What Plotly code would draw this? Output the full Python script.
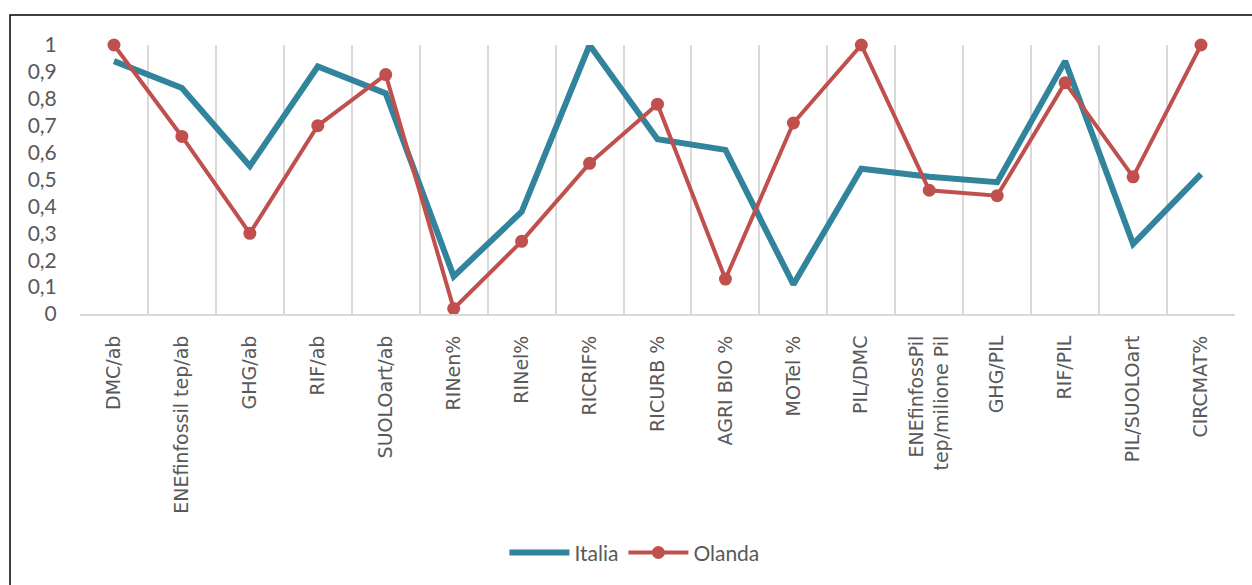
import plotly.graph_objects as go

categories = ["DMC/ab", "ENEfinfossil tep/ab", "GHG/ab", "RIF/ab", "SUOLOart/ab", "RINen%", "RINel%",
              "RICRIF%", "RICURB %", "AGRI BIO %", "MOTel %", "PIL/DMC",
              "ENEfinfossPil<br>tep/milione Pil", "GHG/PIL", "RIF/PIL", "PIL/SUOLOart", "CIRCMAT%"]
italia = [0.94, 0.84, 0.55, 0.92, 0.82, 0.14, 0.38, 1.0, 0.65, 0.61, 0.11, 0.54, 0.51, 0.49, 0.94, 0.26, 0.52]
olanda = [1.0, 0.66, 0.30, 0.70, 0.89, 0.02, 0.27, 0.56, 0.78, 0.13, 0.71, 1.0, 0.46, 0.44, 0.86, 0.51, 1.0]
y_ticks = [i / 10 for i in range(11)]

xpos = list(range(len(categories)))
bounds = [i - 0.5 for i in range(len(categories) + 1)]

fig = go.Figure()
fig.add_trace(go.Scatter(x=xpos, y=italia, name="Italia", mode="lines",
                         line=dict(color="#31849B", width=6), cliponaxis=False))
fig.add_trace(go.Scatter(x=xpos, y=olanda, name="Olanda", mode="lines+markers",
                         line=dict(color="#C0504D", width=4),
                         marker=dict(color="#C0504D", size=13), cliponaxis=False))

grey = "#595959"
fig.update_layout(
    width=1252, height=585,
    margin=dict(l=80, r=17, t=45, b=271),
    paper_bgcolor="white", plot_bgcolor="white",
    separators=", ",
    showlegend=True,
    legend=dict(orientation="h", x=0.48, xanchor="center", y=-0.888, yanchor="middle",
                font=dict(family="Lato", size=21, color=grey), itemwidth=60),
    xaxis=dict(range=[-0.5, len(categories) - 0.5], tickmode="array", tickvals=xpos,
               ticktext=categories, tickangle=-90, showgrid=False, zeroline=False,
               showline=True, linecolor="#d9d9d9", linewidth=2,
               ticks="outside", ticklen=12, tickcolor="rgba(0,0,0,0)",
               tickfont=dict(family="DejaVu Sans", size=19, color=grey),
               minor=dict(tickmode="array", tickvals=bounds, showgrid=True,
                          gridcolor="#d9d9d9", gridwidth=1.5, ticks="")),
    yaxis=dict(range=[0, 1], tickmode="array", tickvals=y_ticks, showgrid=False, zeroline=False,
               showline=False, ticks="outside", ticklen=18, tickcolor="rgba(0,0,0,0)",
               tickfont=dict(family="Lato", size=21, color=grey)),
    shapes=[dict(type="rect", xref="paper", yref="paper", x0=-0.0606, x1=1.03, y0=-1.2, y1=1.1115,
                 line=dict(color="black", width=1.5), fillcolor="rgba(0,0,0,0)")],
)

fig.write_html("out.html")
